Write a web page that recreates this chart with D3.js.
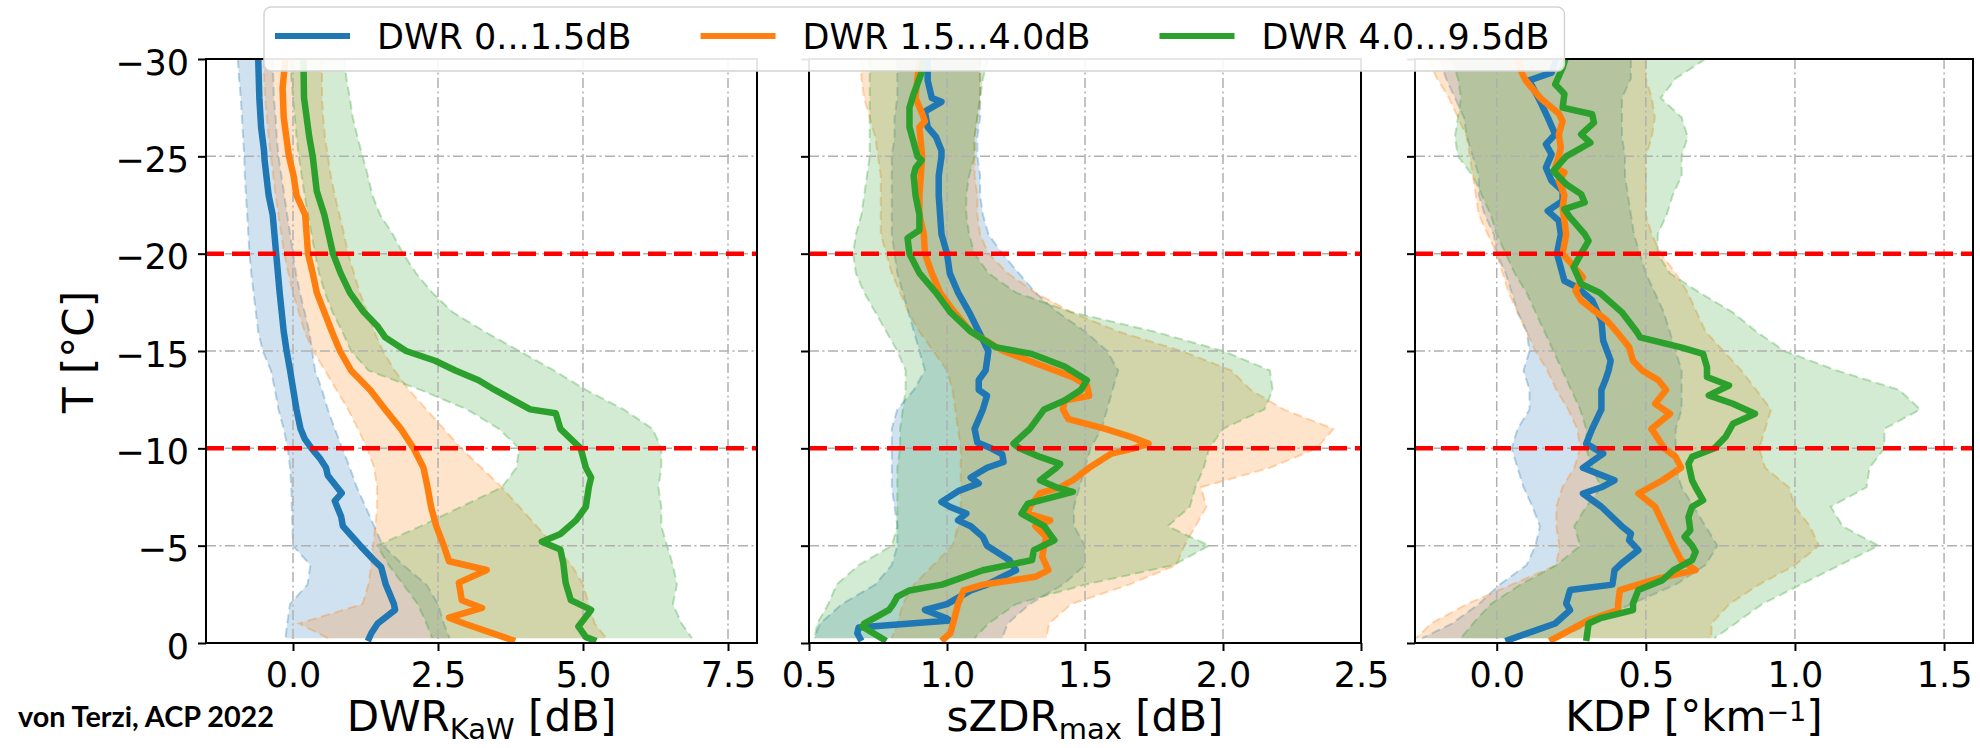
<!DOCTYPE html>
<html>
<head>
<meta charset="utf-8">
<script src="https://cdn.jsdelivr.net/npm/d3@7"></script>
<style>
  html, body { margin: 0; padding: 0; background: #fff; }
  svg { display: block; }
  text { font-family: "DejaVu Sans", sans-serif; fill: #000; }
</style>
</head>
<body>
<svg id="chart" width="1980" height="748"></svg>
<script>
// ---------------------------------------------------------------
// Profiles of DWR(Ka-W), sZDRmax and KDP against temperature,
// grouped into three DWR classes: median line + interquartile band.
// ---------------------------------------------------------------
const seriesNames  = ["DWR 0...1.5dB", "DWR 1.5...4.0dB", "DWR 4.0...9.5dB"];
const seriesColors = ["#1f77b4", "#ff7f0e", "#2ca02c"];

const tempTicks      = [-30, -25, -20, -15, -10, -5, 0];
const referenceTemps = [-20, -10];
const dwrTicks = [0, 2.5, 5, 7.5];
const zdrTicks = [0.5, 1.0, 1.5, 2.0, 2.5];
const kdpTicks = [0, 0.5, 1.0, 1.5];

// temperature levels (°C) of the band edges
const bandTemps = [-30,-29,-28,-27,-26,-25,-24,-23,-22,-21,-20,-19,-18,-17,-16,-15,
                   -14,-13,-12,-11,-10,-9,-8,-7,-6,-5,-4,-3,-2,-1,-0.25];

// ---- DWR_KaW [dB] ----
const dwrLo0 = [-0.95,-0.93,-0.9,-0.88,-0.86,-0.84,-0.83,-0.81,-0.79,-0.77,-0.75,-0.72,-0.68,-0.64,-0.6,-0.52,-0.38,-0.31,-0.25,-0.16,-0.09,-0.05,-0.03,-0.02,-0.01,0.0,0.3,0.25,-0.05,-0.1,-0.13];
const dwrHi0 = [-0.35,-0.34,-0.33,-0.3,-0.28,-0.25,-0.2,-0.15,-0.1,-0.05,0.0,0.05,0.12,0.2,0.28,0.33,0.38,0.5,0.6,0.72,0.85,0.98,1.1,1.25,1.4,1.55,1.9,2.3,2.5,2.6,2.7];
const dwrLo1 = [-0.5,-0.5,-0.48,-0.45,-0.42,-0.38,-0.34,-0.3,-0.25,-0.2,-0.15,-0.08,0.0,0.1,0.2,0.35,0.55,0.75,0.95,1.12,1.28,1.4,1.45,1.45,1.42,1.38,1.35,1.3,1.2,0.1,0.6];
const dwrHi1 = [0.5,0.5,0.5,0.52,0.55,0.6,0.65,0.72,0.8,0.88,0.95,1.05,1.15,1.28,1.4,1.55,1.75,2.0,2.3,2.6,2.9,3.25,3.6,3.9,4.2,4.5,4.8,5.0,5.1,5.2,5.4];
const dwrLo2 = [-0.05,-0.03,0.0,0.03,0.06,0.1,0.15,0.2,0.26,0.32,0.38,0.45,0.55,0.68,0.85,1.0,1.3,2.2,3.0,3.55,3.9,3.85,3.6,2.9,2.2,1.45,1.65,1.9,2.15,2.3,2.4];
const dwrHi2 = [0.89,0.92,0.98,1.03,1.11,1.2,1.29,1.37,1.5,1.72,1.9,2.12,2.4,2.75,3.3,3.9,4.5,5.05,5.7,6.2,6.35,6.35,6.3,6.35,6.35,6.45,6.55,6.62,6.55,6.7,6.88];

// median profiles as [T, value]
const dwrMean0 = [[-30,-0.60],[-28,-0.58],[-26.5,-0.55],[-25.3,-0.50],[-24.8,-0.49],[-23,-0.42],[-22,-0.35],[-20,-0.29],[-18,-0.23],[-16,-0.16],[-15,-0.11],[-14,-0.05],[-12,0.06],[-11,0.13],[-10.5,0.2],[-10,0.32],[-9.5,0.46],[-9,0.57],[-8.6,0.6],[-8,0.76],[-7.7,0.84],[-7.3,0.72],[-7,0.76],[-6.5,0.83],[-6,0.86],[-5.6,0.98],[-5,1.16],[-4.3,1.38],[-3.9,1.52],[-3,1.6],[-2,1.74],[-1.7,1.76],[-1,1.46],[-0.5,1.35],[-0.1,1.29]];
const dwrMean1 = [[-30,-0.13],[-28.5,-0.18],[-27,-0.16],[-25,-0.07],[-24,0.01],[-23,0.06],[-22,0.21],[-20,0.26],[-19,0.34],[-18,0.41],[-17,0.54],[-16,0.67],[-15,0.81],[-14,1.0],[-13,1.33],[-12,1.59],[-11,1.86],[-10,2.08],[-9,2.25],[-8,2.32],[-7,2.38],[-6,2.47],[-5,2.60],[-4.2,2.69],[-3.75,3.34],[-3.1,2.86],[-2.2,2.91],[-1.8,3.26],[-1.3,2.69],[-1.0,2.95],[-0.1,3.83]];
const dwrMean2 = [[-30,0.18],[-28,0.19],[-26,0.28],[-25,0.34],[-23.2,0.41],[-22,0.54],[-20,0.69],[-19,0.82],[-18,0.98],[-17,1.22],[-16.3,1.45],[-15.7,1.59],[-15,1.95],[-14.5,2.45],[-14,2.8],[-13.5,3.2],[-13,3.48],[-12,4.09],[-11.8,4.53],[-11,4.61],[-10,4.96],[-9,5.05],[-8.5,5.14],[-8,5.10],[-7,5.05],[-6.3,4.88],[-5.6,4.61],[-5.2,4.29],[-4.8,4.61],[-4.1,4.66],[-3.1,4.70],[-2.2,4.79],[-1.7,5.14],[-1.35,5.05],[-0.85,4.92],[-0.3,5.05],[-0.1,5.23]];

// ---- sZDRmax [dB] ----
const zdrLo0 = [0.82,0.82,0.82,0.81,0.81,0.80,0.80,0.80,0.80,0.80,0.81,0.82,0.84,0.86,0.88,0.90,0.92,0.88,0.82,0.80,0.80,0.80,0.80,0.81,0.82,0.82,0.80,0.74,0.62,0.54,0.52];
const zdrHi0 = [1.12,1.12,1.12,1.12,1.11,1.11,1.12,1.12,1.13,1.15,1.2,1.26,1.32,1.4,1.5,1.58,1.62,1.6,1.58,1.56,1.52,1.5,1.48,1.46,1.46,1.5,1.5,1.42,1.3,1.22,1.2];
const zdrLo1 = [0.69,0.69,0.70,0.72,0.74,0.75,0.76,0.76,0.76,0.76,0.78,0.80,0.83,0.86,0.9,0.95,1.0,1.02,1.03,1.04,1.05,1.05,1.05,1.05,1.04,1.02,0.95,0.88,0.84,0.82,0.80];
const zdrHi1 = [1.12,1.12,1.12,1.11,1.10,1.10,1.10,1.11,1.11,1.12,1.15,1.22,1.32,1.45,1.62,1.85,2.03,2.1,2.22,2.4,2.34,2.17,1.92,1.94,1.9,1.86,1.83,1.66,1.45,1.37,1.36];
const zdrLo2 = [0.72,0.72,0.72,0.72,0.72,0.72,0.71,0.70,0.69,0.67,0.66,0.67,0.70,0.74,0.78,0.82,0.85,0.85,0.84,0.83,0.83,0.82,0.82,0.82,0.82,0.80,0.68,0.6,0.57,0.53,0.52];
const zdrHi2 = [1.15,1.13,1.12,1.11,1.10,1.10,1.08,1.07,1.07,1.08,1.10,1.15,1.25,1.45,1.75,2.0,2.17,2.18,2.15,2.0,1.95,1.93,1.9,1.88,1.8,1.95,1.82,1.5,1.25,1.15,1.1];

const zdrMean0 = [[-30,0.93],[-28.9,0.93],[-28,0.945],[-27.8,0.98],[-27.3,0.92],[-26.5,0.93],[-26,0.96],[-25.3,0.98],[-25,0.98],[-24,0.97],[-23,0.97],[-22,0.975],[-21,0.98],[-20,1.0],[-19,1.01],[-18,1.04],[-17,1.08],[-16,1.115],[-15,1.15],[-14,1.14],[-13.5,1.115],[-13,1.115],[-12.7,1.145],[-12,1.13],[-11,1.10],[-10.3,1.11],[-10,1.16],[-9.7,1.20],[-9.3,1.205],[-9,1.145],[-8.5,1.086],[-8.2,1.115],[-7.8,1.04],[-7.25,0.98],[-7,1.01],[-6.65,1.07],[-6.3,1.04],[-6,1.086],[-5.45,1.13],[-5,1.145],[-4.26,1.226],[-3.74,1.25],[-3.4,1.2],[-3,1.145],[-2.7,1.086],[-2,1.0],[-1.7,0.92],[-1.26,1.0],[-1.15,1.01],[-0.8,0.68],[-0.5,0.675],[-0.1,0.69]];
const zdrMean1 = [[-30,0.90],[-28,0.886],[-27.2,0.91],[-26.8,0.92],[-26.5,0.90],[-25,0.91],[-23,0.90],[-22,0.90],[-21,0.916],[-20,0.92],[-19,0.945],[-18,0.975],[-17,1.027],[-16,1.086],[-15,1.204],[-14.2,1.352],[-13.66,1.456],[-13.23,1.507],[-12.7,1.515],[-12.46,1.426],[-12,1.42],[-11.5,1.44],[-11,1.574],[-10.6,1.663],[-10.24,1.73],[-10,1.677],[-9.73,1.596],[-9,1.515],[-8.36,1.456],[-8,1.41],[-7.7,1.337],[-7,1.30],[-6.65,1.293],[-6.3,1.374],[-6,1.32],[-5.45,1.36],[-5,1.352],[-4.43,1.345],[-3.74,1.367],[-3.4,1.32],[-3,1.13],[-2.7,1.06],[-2,1.04],[-1.26,1.027],[-0.5,1.012],[-0.1,0.98]];
const zdrMean2 = [[-30,0.91],[-29.3,0.908],[-28.2,0.879],[-27.5,0.864],[-26.5,0.864],[-25,0.893],[-24.8,0.908],[-24.4,0.886],[-24,0.879],[-23,0.886],[-22,0.90],[-21.2,0.90],[-20.8,0.857],[-20,0.864],[-19,0.90],[-18,0.96],[-17,1.012],[-16,1.086],[-15.2,1.175],[-14.85,1.308],[-14.2,1.426],[-13.5,1.507],[-13,1.485],[-12.46,1.426],[-12,1.352],[-11,1.30],[-10.24,1.241],[-10,1.263],[-9.56,1.337],[-9.2,1.41],[-9,1.396],[-8.36,1.337],[-8,1.396],[-7.76,1.456],[-7.16,1.293],[-6.65,1.27],[-6,1.352],[-5.45,1.38],[-5.28,1.389],[-4.77,1.315],[-4.26,1.308],[-3.74,1.13],[-3,0.982],[-2.7,0.864],[-2.38,0.82],[-2,0.805],[-1.7,0.79],[-1,0.70],[-0.84,0.694],[-0.1,0.78]];

// ---- KDP [°/km] ----
const kdpLo0 = [-0.19,-0.17,-0.14,-0.11,-0.1,-0.08,-0.06,-0.06,-0.04,-0.01,0.0,0.03,0.05,0.07,0.1,0.11,0.09,0.11,0.11,0.07,0.05,0.07,0.09,0.12,0.145,0.13,0.1,0.01,-0.06,-0.15,-0.25];
const kdpHi0 = [0.45,0.45,0.42,0.42,0.42,0.43,0.43,0.44,0.45,0.46,0.48,0.5,0.53,0.56,0.58,0.6,0.62,0.62,0.62,0.6,0.6,0.6,0.62,0.66,0.7,0.74,0.7,0.6,0.45,0.32,0.2];
const kdpLo1 = [-0.23,-0.2,-0.16,-0.13,-0.1,-0.09,-0.08,-0.07,-0.06,-0.03,0.0,0.02,0.04,0.07,0.1,0.13,0.17,0.2,0.24,0.27,0.28,0.26,0.22,0.2,0.2,0.21,0.2,0.05,-0.1,-0.22,-0.27];
const kdpHi1 = [0.5,0.5,0.52,0.53,0.52,0.5,0.5,0.5,0.5,0.52,0.55,0.6,0.64,0.67,0.7,0.76,0.82,0.87,0.92,0.9,0.88,0.9,0.98,1.0,1.05,1.08,1.0,0.88,0.78,0.72,0.72];
const kdpLo2 = [-0.15,-0.13,-0.12,-0.13,-0.14,-0.13,-0.08,-0.05,-0.02,0.0,0.03,0.06,0.1,0.13,0.16,0.19,0.22,0.25,0.28,0.3,0.3,0.32,0.35,0.3,0.26,0.28,0.2,0.08,-0.02,-0.08,-0.12];
const kdpHi2 = [0.7,0.6,0.55,0.62,0.64,0.62,0.62,0.59,0.57,0.54,0.54,0.58,0.68,0.79,0.87,0.965,1.14,1.35,1.42,1.3,1.3,1.25,1.24,1.12,1.16,1.28,1.15,1.02,0.89,0.8,0.73];

const kdpMean0 = [[-30,0.2],[-29.3,0.184],[-28.9,0.109],[-28,0.14],[-27,0.171],[-26.13,0.196],[-25.62,0.165],[-25.1,0.184],[-24.42,0.165],[-23.74,0.184],[-23.23,0.221],[-22.71,0.221],[-22.2,0.171],[-21.7,0.208],[-21,0.215],[-20,0.202],[-18.6,0.227],[-18.27,0.27],[-17.6,0.32],[-16.56,0.351],[-15.53,0.357],[-14.5,0.382],[-14,0.375],[-13.49,0.364],[-13,0.351],[-12,0.351],[-11,0.32],[-10.24,0.30],[-9.73,0.357],[-9,0.289],[-8.36,0.395],[-8,0.351],[-7.68,0.289],[-7,0.351],[-6,0.419],[-5.62,0.45],[-5.28,0.444],[-4.77,0.475],[-4.09,0.419],[-3.74,0.395],[-3,0.388],[-2.72,0.246],[-2.03,0.233],[-1.69,0.246],[-1,0.196],[-0.1,0.029]];
const kdpMean1 = [[-30,0.07],[-29.3,0.084],[-28.9,0.097],[-28,0.146],[-27.2,0.208],[-26.8,0.221],[-26.13,0.208],[-25.45,0.215],[-25,0.208],[-24.42,0.196],[-24.17,0.227],[-23.74,0.208],[-23,0.227],[-22.37,0.221],[-21,0.233],[-20,0.221],[-18.8,0.289],[-18.1,0.264],[-17.6,0.283],[-16.56,0.37],[-15.9,0.407],[-15.2,0.444],[-14.5,0.457],[-14,0.488],[-13.49,0.543],[-13,0.568],[-12.29,0.531],[-11.78,0.581],[-11,0.519],[-10,0.562],[-9.56,0.60],[-9,0.618],[-8.36,0.556],[-7.68,0.475],[-7,0.531],[-6,0.562],[-5,0.593],[-4.26,0.618],[-3.74,0.667],[-3.32,0.543],[-2.72,0.413],[-2.03,0.407],[-1.69,0.407],[-1.18,0.308],[-0.1,0.177]];
const kdpMean2 = [[-30,0.23],[-29.55,0.221],[-28.7,0.196],[-28.2,0.227],[-27.5,0.221],[-27.16,0.32],[-26.73,0.326],[-26.13,0.283],[-25.7,0.314],[-25,0.233],[-24.25,0.19],[-23.57,0.233],[-23.06,0.283],[-22.63,0.295],[-22.29,0.227],[-21.86,0.246],[-21,0.295],[-20.66,0.308],[-20,0.283],[-19.3,0.258],[-18.44,0.283],[-18,0.345],[-17,0.419],[-16,0.469],[-15.7,0.481],[-15.19,0.618],[-14.85,0.692],[-14.17,0.705],[-13.66,0.705],[-13.23,0.779],[-12.72,0.711],[-12.29,0.792],[-11.78,0.866],[-11.26,0.792],[-10.58,0.767],[-10,0.73],[-9.56,0.655],[-9.21,0.643],[-8.36,0.655],[-8,0.667],[-7.33,0.692],[-7,0.655],[-6.48,0.643],[-5.8,0.649],[-5.45,0.63],[-5,0.655],[-4.68,0.667],[-4.26,0.655],[-3.74,0.593],[-3.23,0.556],[-2.72,0.475],[-2.03,0.457],[-1.69,0.457],[-1.26,0.345],[-1,0.308],[-0.1,0.30]];

// ---------------------------------------------------------------
// layout
// ---------------------------------------------------------------
const plotTop = 59, plotBottom = 643;
const tickFont = 35, labelFont = 42;

const panels = [
  { left: 206, right: 757, domain: [-1.5, 8], ticks: dwrTicks, showTempLabels: true,
    label: [{ text: "DWR" }, { text: "KaW", shift: 8 }, { text: " [dB]" }],
    means: [dwrMean0, dwrMean1, dwrMean2], lows: [dwrLo0, dwrLo1, dwrLo2], highs: [dwrHi0, dwrHi1, dwrHi2] },
  { left: 809, right: 1361, domain: [0.5, 2.5], ticks: zdrTicks, showTempLabels: false,
    label: [{ text: "sZDR" }, { text: "max", shift: 8 }, { text: " [dB]" }],
    means: [zdrMean0, zdrMean1, zdrMean2], lows: [zdrLo0, zdrLo1, zdrLo2], highs: [zdrHi0, zdrHi1, zdrHi2] },
  { left: 1415, right: 1973, domain: [-0.274, 1.597], ticks: kdpTicks, showTempLabels: false,
    label: [{ text: "KDP [°km" }, { text: "−1", shift: -10, size: 0.65 }, { text: "]" }],
    means: [kdpMean0, kdpMean1, kdpMean2], lows: [kdpLo0, kdpLo1, kdpLo2], highs: [kdpHi0, kdpHi1, kdpHi2] }
];

const svg = d3.select("#chart");
const y = d3.scaleLinear().domain([0, -30]).range([plotBottom, plotTop]);
const defs = svg.append("defs");

panels.forEach((p, pi) => {
  const x = d3.scaleLinear().domain(p.domain).range([p.left, p.right]);
  const g = svg.append("g").attr("class", "panel");

  defs.append("clipPath").attr("id", "plot-clip-" + pi)
    .append("rect").attr("x", p.left).attr("y", plotTop)
    .attr("width", p.right - p.left).attr("height", plotBottom - plotTop);
  const plot = g.append("g").attr("clip-path", `url(#plot-clip-${pi})`);

  // spread bands
  p.lows.forEach((lo, s) => {
    const rows = bandTemps.map((t, i) => ({ t, lo: lo[i], hi: p.highs[s][i] }));
    const area = d3.area().y(d => y(d.t)).x0(d => x(d.lo)).x1(d => x(d.hi));
    plot.append("path").attr("d", area(rows))
      .attr("fill", seriesColors[s]).attr("fill-opacity", 0.21).attr("stroke", "none");
    ["lo", "hi"].forEach(k => {
      const edge = d3.line().x(d => x(d[k])).y(d => y(d.t));
      plot.append("path").attr("d", edge(rows))
        .attr("fill", "none").attr("stroke", seriesColors[s])
        .attr("stroke-opacity", 0.3).attr("stroke-width", 2)
        .attr("stroke-dasharray", "9 5");
    });
  });

  // dash-dot grid
  const grid = plot.append("g").attr("stroke", "#b0b0b0").attr("stroke-width", 1.5)
    .attr("stroke-dasharray", "10 3.5 2 3.5");
  p.ticks.forEach(v => grid.append("line")
    .attr("x1", x(v)).attr("x2", x(v)).attr("y1", plotTop).attr("y2", plotBottom));
  tempTicks.forEach(t => grid.append("line")
    .attr("x1", p.left).attr("x2", p.right).attr("y1", y(t)).attr("y2", y(t)));

  // median profiles
  const line = d3.line().x(d => x(d[1])).y(d => y(d[0]));
  p.means.forEach((m, s) => {
    plot.append("path").attr("d", line(m))
      .attr("fill", "none").attr("stroke", seriesColors[s])
      .attr("stroke-width", 6.5).attr("stroke-linejoin", "round");
  });

  // -20 °C and -10 °C reference levels
  referenceTemps.forEach(t => {
    g.append("line").attr("x1", p.left).attr("x2", p.right)
      .attr("y1", y(t)).attr("y2", y(t))
      .attr("stroke", "#ff0000").attr("stroke-width", 4.5)
      .attr("stroke-dasharray", "18 8");
  });

  // axes
  const xAxis = d3.axisBottom(x).tickValues(p.ticks).tickFormat(d3.format(".1f"))
    .tickSize(8).tickSizeOuter(0).tickPadding(11);
  const gx = g.append("g").attr("transform", `translate(0,${plotBottom})`).call(xAxis);
  gx.select(".domain").remove();
  gx.selectAll(".tick line").attr("stroke", "#000").attr("stroke-width", 2);
  gx.selectAll(".tick text").style("font-size", tickFont + "px")
    .style("font-family", "DejaVu Sans").attr("fill", "#000");

  const yAxis = d3.axisLeft(y).tickValues(tempTicks)
    .tickFormat(p.showTempLabels ? d3.format("d") : () => "")
    .tickSize(8).tickSizeOuter(0).tickPadding(9);
  const gy = g.append("g").attr("transform", `translate(${p.left},0)`).call(yAxis);
  gy.select(".domain").remove();
  gy.selectAll(".tick line").attr("stroke", "#000").attr("stroke-width", 2);
  gy.selectAll(".tick text").style("font-size", tickFont + "px")
    .style("font-family", "DejaVu Sans").attr("fill", "#000").attr("dy", "0.43em");

  // frame
  g.append("rect").attr("x", p.left).attr("y", plotTop)
    .attr("width", p.right - p.left).attr("height", plotBottom - plotTop)
    .attr("fill", "none").attr("stroke", "#000").attr("stroke-width", 2);

  // axis title with sub/superscript
  const title = g.append("text").attr("x", (p.left + p.right) / 2).attr("y", 731)
    .attr("text-anchor", "middle").style("font-size", labelFont + "px");
  let shift = 0;
  p.label.forEach(part => {
    const target = part.shift || 0;
    const ts = title.append("tspan").text(part.text);
    if (target !== shift) ts.attr("dy", target - shift);
    if (part.shift) ts.style("font-size", Math.round(labelFont * (part.size || 0.7)) + "px");
    shift = target;
  });
});

// temperature axis title
svg.append("text")
  .attr("transform", "translate(93,352) rotate(-90)")
  .attr("text-anchor", "middle").style("font-size", "42px")
  .text("T [°C]");

// source note
svg.append("text").attr("x", 18).attr("y", 727)
  .style("font-family", "Lato, 'Open Sans', sans-serif").style("font-weight", 700)
  .style("font-size", "28px")
  .attr("textLength", 256).attr("lengthAdjust", "spacingAndGlyphs")
  .text("von Terzi, ACP 2022");

// legend
const legend = svg.append("g").attr("class", "legend");
const legendBox = legend.append("rect").attr("x", 264).attr("y", 7)
  .attr("height", 64).attr("rx", 7)
  .attr("fill", "#fff").attr("fill-opacity", 0.9)
  .attr("stroke", "#d4d4d4").attr("stroke-width", 1.5);
let lx = 275;
seriesNames.forEach((name, s) => {
  legend.append("line").attr("x1", lx).attr("x2", lx + 75).attr("y1", 36).attr("y2", 36)
    .attr("stroke", seriesColors[s]).attr("stroke-width", 6);
  const t = legend.append("text").attr("x", lx + 102).attr("y", 49)
    .style("font-size", "35px").text(name);
  lx = lx + 102 + t.node().getComputedTextLength() + 69;
});
legendBox.attr("width", lx - 69 + 15 - 264);
</script>
</body>
</html>
